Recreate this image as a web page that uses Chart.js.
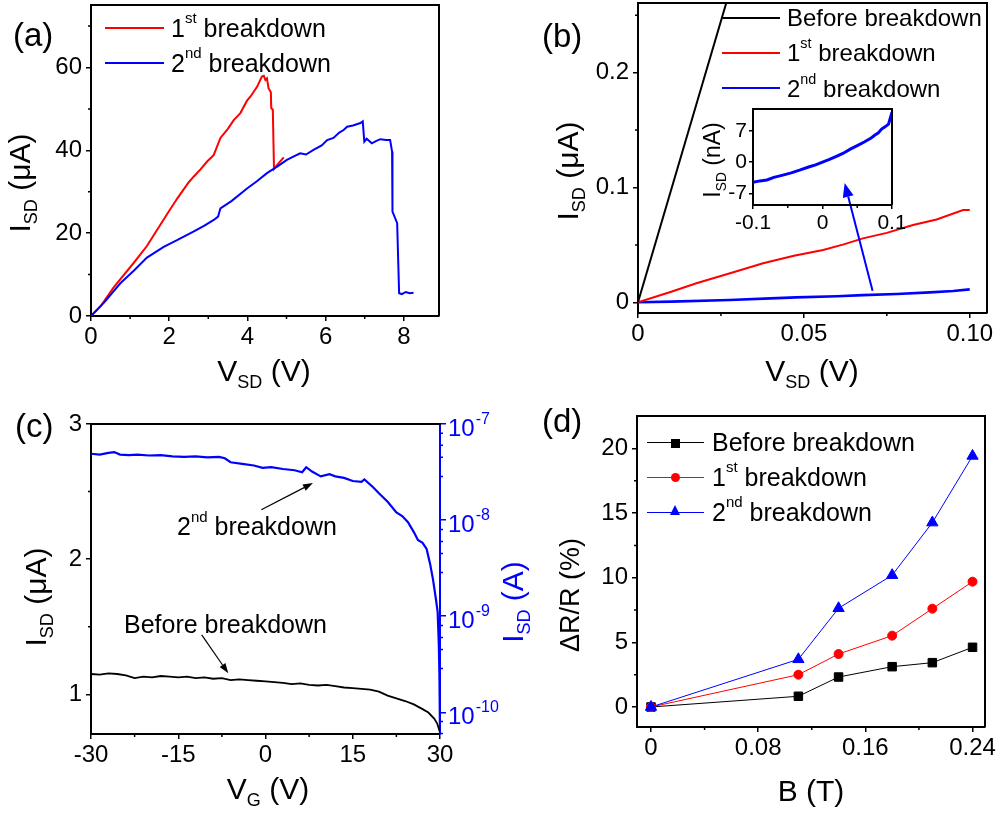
<!DOCTYPE html>
<html lang="en">
<head>
  <meta charset="UTF-8" />
  <title>Breakdown transport</title>
  <script src="https://cdn.jsdelivr.net/npm/chart.js"></script>
  <style>
    body { margin: 0; background: #fff; }
    #fig { position: relative; width: 1000px; height: 813px; overflow: hidden;
           font-family: "Liberation Sans", Arial, sans-serif; color: #000; }
    .box { position: absolute; }
    .t { position: absolute; white-space: nowrap; line-height: 1; }
    .c { transform: translateX(-50%); }
    .r { transform: translate(-50%, -50%) rotate(-90deg); }
    .sp { font-size: 60%; position: relative; top: -0.9em; }
    .sb { font-size: 60%; position: relative; top: 0.4em; }
    .ln { position: absolute; height: 2px; }
    .mk { position: absolute; }
  </style>
</head>
<body>
<div id="fig">
  <div class="box" style="left:0;top:0;width:460px;height:400px"><canvas id="chartA"></canvas></div>
  <div class="box" style="left:540px;top:0;width:460px;height:400px"><canvas id="chartB"></canvas></div>
  <div class="box" style="left:690px;top:100px;width:215px;height:140px"><canvas id="chartInset"></canvas></div>
  <div class="box" style="left:0;top:400px;width:510px;height:413px"><canvas id="chartC"></canvas></div>
  <div class="box" style="left:540px;top:400px;width:460px;height:413px"><canvas id="chartD"></canvas></div>

  <!-- panel letters -->
  <div class="t" style="left:13px;top:18px;font-size:33px">(a)</div>
  <div class="t" style="left:542px;top:19px;font-size:33px">(b)</div>
  <div class="t" style="left:15px;top:409px;font-size:33px">(c)</div>
  <div class="t" style="left:542px;top:404px;font-size:33px">(d)</div>

  <!-- (a) titles + legend -->
  <div class="t c" style="left:264px;top:356px;font-size:30px">V<span class="sb">SD</span> (V)</div>
  <div class="t r" style="left:20px;top:183px;font-size:30px">I<span class="sb">SD</span> (μA)</div>
  <div class="ln" style="left:105px;top:27px;width:59px;background:#f00"></div>
  <div class="ln" style="left:105px;top:62px;width:59px;background:#00f"></div>
  <div class="t" style="left:171px;top:15.5px;font-size:25px">1<span class="sp">st</span> breakdown</div>
  <div class="t" style="left:171px;top:50.5px;font-size:25px">2<span class="sp">nd</span> breakdown</div>

  <!-- (b) titles + legend -->
  <div class="t c" style="left:812px;top:356px;font-size:30px">V<span class="sb">SD</span> (V)</div>
  <div class="t r" style="left:568px;top:171px;font-size:30px">I<span class="sb">SD</span> (μA)</div>
  <div class="t r" style="left:712px;top:160px;font-size:23px">I<span class="sb">SD</span> (nA)</div>
  <div class="ln" style="left:722px;top:17px;width:58px;background:#000"></div>
  <div class="ln" style="left:722px;top:52px;width:58px;background:#f00"></div>
  <div class="ln" style="left:722px;top:87px;width:58px;background:#00f"></div>
  <div class="t" style="left:787px;top:5.5px;font-size:24px">Before breakdown</div>
  <div class="t" style="left:787px;top:41px;font-size:24px">1<span class="sp">st</span> breakdown</div>
  <div class="t" style="left:787px;top:76.5px;font-size:24px">2<span class="sp">nd</span> breakdown</div>

  <!-- (c) titles + notes -->
  <div class="t c" style="left:268px;top:774px;font-size:30px">V<span class="sb">G</span> (V)</div>
  <div class="t r" style="left:36px;top:597px;font-size:30px">I<span class="sb">SD</span> (μA)</div>
  <div class="t r" style="left:513px;top:602px;font-size:30px;color:#00f">I<span class="sb">SD</span> (A)</div>
  <div class="t" style="left:177px;top:514px;font-size:25px">2<span class="sp">nd</span> breakdown</div>
  <div class="t" style="left:124px;top:611.5px;font-size:25px">Before breakdown</div>

  <!-- (d) titles + legend -->
  <div class="t c" style="left:811px;top:776px;font-size:30px">B (T)</div>
  <div class="t r" style="left:570px;top:595px;font-size:27px">ΔR/R (%)</div>
  <div class="ln" style="left:647px;top:442px;width:57px;height:1px;background:#000"></div>
  <div class="ln" style="left:647px;top:477px;width:57px;height:1px;background:#f00"></div>
  <div class="ln" style="left:647px;top:512px;width:57px;height:1px;background:#00f"></div>
  <div class="mk" style="left:671px;top:438.5px;width:9px;height:9px;background:#000"></div>
  <div class="mk" style="left:670.5px;top:472.8px;width:9px;height:9px;border-radius:50%;background:#f00"></div>
  <div class="mk" style="left:669.5px;top:505px;width:0;height:0;border-left:5.5px solid transparent;border-right:5.5px solid transparent;border-bottom:10px solid #00f"></div>
  <div class="t" style="left:712px;top:429.5px;font-size:25px">Before breakdown</div>
  <div class="t" style="left:712px;top:464.5px;font-size:25px">1<span class="sp">st</span> breakdown</div>
  <div class="t" style="left:712px;top:499.5px;font-size:25px">2<span class="sp">nd</span> breakdown</div>
</div>

<script>
  // ---- (a) I-V up to breakdown ----
  const aRedV = [0, 0.24, 0.58, 1.09, 1.43, 1.94, 2.2, 2.5, 2.63, 2.8, 2.97, 3.14, 3.31, 3.5, 3.65, 3.82, 3.99, 4.08, 4.25, 4.37, 4.42, 4.46, 4.5, 4.54, 4.6, 4.61, 4.65, 4.68, 4.8, 4.93];
  const aRedI = [0, 2.3, 6.9, 12.8, 16.9, 24.5, 28.3, 32.3, 33.7, 35.4, 37.3, 38.9, 43.0, 45.2, 47.3, 49.0, 52.0, 53.0, 55.4, 57.8, 58.0, 57.0, 57.4, 55.0, 54.0, 50.2, 49.8, 35.5, 36.9, 38.3];
  const aBlueV = [0, 0.35, 0.75, 1.1, 1.43, 1.86, 2.2, 2.62, 2.9, 3.14, 3.25, 3.31, 3.6, 3.99, 4.25, 4.5, 4.75, 5.01, 5.2, 5.35, 5.5, 5.69, 5.9, 6.04, 6.2, 6.35, 6.46, 6.55, 6.7, 6.89, 6.95, 6.99, 7.05, 7.18, 7.3, 7.4, 7.55, 7.65, 7.7, 7.71, 7.83, 7.88, 7.95, 8.05, 8.15, 8.25];
  const aBlueI = [0, 3.4, 7.9, 11.0, 14.1, 16.7, 18.3, 20.4, 21.8, 23.2, 24.0, 26.0, 27.8, 30.8, 32.6, 34.5, 36.0, 37.7, 38.6, 39.3, 39.0, 40.1, 41.2, 42.5, 43.0, 44.3, 44.9, 45.7, 46.0, 46.6, 47.0, 42.1, 42.8, 41.7, 42.3, 42.7, 42.5, 42.5, 39.7, 25.2, 22.4, 5.5, 5.3, 5.8, 5.5, 5.6];
  const aTickX = [0, 2, 4, 6, 8];
  const aTickXLab = ['0', '2', '4', '6', '8'];
  const aTickY = [0, 20, 40, 60];
  const aTickYLab = ['0', '20', '40', '60'];

  // ---- (b) low-bias I-V ----
  const bBeforeV = [0, 0.03];
  const bBeforeI = [0, 0.294];
  const bFirstV = [0, 0.01, 0.0176, 0.028, 0.0377, 0.047, 0.0558, 0.062, 0.0678, 0.075, 0.0829, 0.09, 0.098, 0.1];
  const bFirstI = [0, 0.0092, 0.0166, 0.0255, 0.034, 0.0405, 0.0456, 0.0505, 0.0557, 0.0605, 0.0673, 0.0722, 0.0804, 0.0804];
  const bSecondV = [0, 0.01, 0.0276, 0.04, 0.0477, 0.06, 0.0678, 0.078, 0.088, 0.095, 0.1];
  const bSecondI = [0, 0.0006, 0.002, 0.0034, 0.0043, 0.0053, 0.0063, 0.0073, 0.0087, 0.0098, 0.0113];
  const bTickX = [0, 0.05, 0.1];
  const bTickXLab = ['0', '0.05', '0.10'];
  const bTickY = [0, 0.1, 0.2];
  const bTickYLab = ['0', '0.1', '0.2'];

  // inset: 2nd breakdown in nA
  const insV = [-0.1, -0.09, -0.08, -0.07, -0.057, -0.045, -0.033, -0.02, -0.01, 0, 0.01, 0.02, 0.03, 0.04, 0.05, 0.06, 0.07, 0.075, 0.08, 0.085, 0.09, 0.095, 0.1];
  const insI = [-4.5, -4.2, -4.0, -3.4, -2.9, -2.4, -1.8, -1.1, -0.6, 0, 0.6, 1.3, 2.0, 2.9, 3.7, 4.5, 5.4, 6.0, 6.5, 7.4, 7.9, 8.5, 11.2];
  const insTickX = [-0.1, 0, 0.1];
  const insTickXLab = ['-0.1', '0', '0.1'];
  const insTickY = [-7, 0, 7];
  const insTickYLab = ['-7', '0', '7'];

  // ---- (c) gate sweep ----
  const cBeforeVG = [-30, -28.5, -27, -25.5, -24, -22.5, -21, -19.5, -18, -16.5, -15, -13.5, -12, -10.5, -9, -7.5, -6, -4.5, -3, -1.5, 0, 1.5, 3, 4.5, 6, 7.5, 9, 10.5, 12, 13.5, 15, 16.5, 18, 19.5, 21, 22.5, 24, 25.5, 27, 28, 29, 29.5, 30];
  const cBeforeI = [1.15, 1.145, 1.155, 1.15, 1.14, 1.12, 1.13, 1.125, 1.135, 1.13, 1.125, 1.13, 1.12, 1.125, 1.115, 1.12, 1.105, 1.11, 1.105, 1.1, 1.095, 1.09, 1.085, 1.075, 1.08, 1.07, 1.065, 1.07, 1.06, 1.05, 1.045, 1.04, 1.035, 1.02, 0.99, 0.97, 0.95, 0.925, 0.89, 0.865, 0.82, 0.785, 0.72];
  const cSecondVG = [-30, -28.5, -27, -26, -25, -23.5, -22, -20, -18, -16, -14, -12, -10, -8, -7, -6, -4, -2, -0.5, 1, 3, 5, 6.3, 7, 8, 9.5, 11, 12, 13.5, 15, 16.5, 17, 18.5, 19.5, 21, 22.5, 23.5, 24.5, 25.5, 26.2, 27, 27.7, 28.3, 28.8, 29.3, 29.6, 29.8, 29.9, 30];
  const cSecondI = [4.9e-8, 4.8e-8, 5.0e-8, 5.1e-8, 4.8e-8, 4.75e-8, 4.8e-8, 4.7e-8, 4.75e-8, 4.6e-8, 4.55e-8, 4.6e-8, 4.5e-8, 4.55e-8, 4.4e-8, 4.0e-8, 3.85e-8, 3.7e-8, 3.5e-8, 3.55e-8, 3.4e-8, 3.3e-8, 3.15e-8, 3.55e-8, 3.2e-8, 2.85e-8, 3.0e-8, 2.85e-8, 2.75e-8, 2.55e-8, 2.5e-8, 2.65e-8, 2.2e-8, 1.9e-8, 1.55e-8, 1.2e-8, 1.1e-8, 9.5e-9, 7.5e-9, 6.2e-9, 5.8e-9, 5.0e-9, 3.5e-9, 2.4e-9, 1.5e-9, 1.1e-9, 5e-10, 2.5e-10, 6e-11];
  const cTickX = [-30, -15, 0, 15, 30];
  const cTickXLab = ['-30', '-15', '0', '15', '30'];
  const cTickY = [1, 2, 3];
  const cTickYLab = ['1', '2', '3'];
  const cTickR = [1e-10, 1e-9, 1e-8, 1e-7];
  const cTickRExp = ['-10', '-9', '-8', '-7'];

  // ---- (d) magnetoresistance ----
  const dB = [0, 0.11, 0.14, 0.18, 0.21, 0.24];
  const dBefore = [0, 0.83, 2.32, 3.12, 3.43, 4.62];
  const dFirst = [0, 2.50, 4.10, 5.52, 7.61, 9.70];
  const dSecond = [0, 3.69, 7.64, 10.2, 14.27, 19.43];
  const dTickX = [0, 0.08, 0.16, 0.24];
  const dTickXLab = ['0', '0.08', '0.16', '0.24'];
  const dTickY = [0, 5, 10, 15, 20];
  const dTickYLab = ['0', '5', '10', '15', '20'];

  const FONT = "'Liberation Sans', Arial, sans-serif";
  const BLUE = '#0000ff', RED = '#ff0000';

  function pts(xs, ys) { return xs.map((x, i) => ({ x, y: ys[i] })); }

  function axis(o) {
    const col = o.color || '#000';
    return {
      type: o.type || 'linear', position: o.pos, min: o.min, max: o.max,
      afterBuildTicks: s => { s.ticks = o.ticks.map(v => ({ value: v })); },
      afterFit: s => {
        if (o.vert) { s.width = o.size; s.paddingTop = 0; s.paddingBottom = 0; }
        else { s.height = o.size; s.paddingLeft = 0; s.paddingRight = 0; }
      },
      ticks: {
        display: !!o.labels, autoSkip: false, maxRotation: 0, minRotation: 0,
        callback: (v, i) => o.labels ? o.labels[i] : '',
        font: { family: FONT, size: o.font || 24 }, color: col, padding: o.pad
      },
      grid: { drawOnChartArea: false, drawTicks: true, tickLength: o.tl || 5, color: col, lineWidth: 1.5 },
      border: { display: true, color: col, width: 2 }
    };
  }

  function line(xs, ys, color, w, extra) {
    return Object.assign({ data: pts(xs, ys), borderColor: color, backgroundColor: color,
      borderWidth: w, pointRadius: 0, pointHoverRadius: 0, tension: 0, fill: false }, extra || {});
  }

  function arrow(ctx, x0, y0, x1, y1, color, w, hl, hw) {
    const ang = Math.atan2(y1 - y0, x1 - x0);
    const bx = x1 - hl * Math.cos(ang), by = y1 - hl * Math.sin(ang);
    ctx.strokeStyle = color; ctx.fillStyle = color; ctx.lineWidth = w;
    ctx.beginPath(); ctx.moveTo(x0, y0); ctx.lineTo(bx, by); ctx.stroke();
    ctx.beginPath(); ctx.moveTo(x1, y1);
    ctx.lineTo(bx + hw * Math.sin(ang), by - hw * Math.cos(ang));
    ctx.lineTo(bx - hw * Math.sin(ang), by + hw * Math.cos(ang));
    ctx.closePath(); ctx.fill();
  }

  // frame, minor ticks, arrows, power-of-ten labels
  const decor = {
    id: 'decor',
    afterDraw(chart, args, o) {
      const { ctx, chartArea: a, scales } = chart;
      ctx.save();
      ctx.strokeStyle = '#000'; ctx.lineWidth = 2;
      ctx.beginPath();
      ctx.moveTo(a.left - 1, a.top); ctx.lineTo(a.right + 1, a.top);
      if (o.frameRight !== false) { ctx.moveTo(a.right, a.top); ctx.lineTo(a.right, a.bottom); }
      ctx.stroke();

      const len = o.minorLen || 3;
      ctx.lineWidth = 1.5;
      ctx.beginPath();
      (o.minorX || []).forEach(v => { const p = scales.x.getPixelForValue(v); ctx.moveTo(p, a.bottom); ctx.lineTo(p, a.bottom + len); });
      (o.minorY || []).forEach(v => { const p = scales.y.getPixelForValue(v); ctx.moveTo(a.left - len, p); ctx.lineTo(a.left, p); });
      ctx.stroke();
      if (o.minorY2) {
        ctx.strokeStyle = BLUE; ctx.beginPath();
        o.minorY2.forEach(v => { const p = scales.y2.getPixelForValue(v); ctx.moveTo(a.right, p); ctx.lineTo(a.right + len, p); });
        ctx.stroke();
      }

      if (o.powers) {
        const s = scales[o.powers.axis];
        ctx.fillStyle = o.powers.color; ctx.textAlign = 'left'; ctx.textBaseline = 'alphabetic';
        o.powers.values.forEach((v, i) => {
          const p = s.getPixelForValue(v), x = a.right + 8;
          ctx.font = '24px ' + FONT;
          ctx.fillText('10', x, p + 12);
          const w = ctx.measureText('10').width;
          ctx.font = '16px ' + FONT;
          ctx.fillText(o.powers.exps[i], x + w + 1, p - 0.5);
        });
      }

      (o.arrows || []).forEach(r => {
        const ys = scales[r.yAxis || 'y'];
        arrow(ctx, scales.x.getPixelForValue(r.x0), ys.getPixelForValue(r.y0),
          scales.x.getPixelForValue(r.x1), ys.getPixelForValue(r.y1), r.color, r.w, r.hl, r.hw);
      });
      ctx.restore();
    }
  };

  function plot(id, datasets, scales, pad, deco) {
    return new Chart(document.getElementById(id), {
      type: 'line',
      data: { datasets },
      options: {
        responsive: true, maintainAspectRatio: false, animation: false, events: [],
        layout: { padding: pad, autoPadding: false },
        scales,
        plugins: { legend: { display: false }, tooltip: { enabled: false }, decor: deco }
      },
      plugins: [decor]
    });
  }

  // (a)
  plot('chartA', [
    line(aBlueV, aBlueI, BLUE, 2),
    line(aRedV, aRedI, RED, 2)
  ], {
    x: axis({ min: 0, max: 8.9, ticks: aTickX, labels: aTickXLab, size: 40, pad: 2 }),
    y: axis({ min: 0, max: 75.1, ticks: aTickY, labels: aTickYLab, size: 91, vert: true, pad: 4 })
  }, { top: 5, right: 21, bottom: 44, left: 0 },
  { minorX: [1, 3, 5, 7], minorY: [10, 30, 50, 70] });

  // (b)
  plot('chartB', [
    line(bBeforeV, bBeforeI, '#000', 2),
    line(bFirstV, bFirstI, RED, 2),
    line(bSecondV, bSecondI, BLUE, 2.6)
  ], {
    x: axis({ min: 0, max: 0.1052, ticks: bTickX, labels: bTickXLab, size: 40, pad: 2 }),
    y: axis({ min: -0.0093, max: 0.2607, ticks: bTickY, labels: bTickYLab, size: 98, vert: true, pad: 4 })
  }, { top: 3, right: 13, bottom: 47, left: 0 },
  { minorX: [0.025, 0.075], minorY: [0.05, 0.15, 0.25],
    arrows: [{ x0: 0.0707, y0: 0.0101, x1: 0.0623, y1: 0.1039, color: BLUE, w: 2, hl: 14, hw: 5.5 }] });

  // (b) inset
  plot('chartInset', [
    line(insV, insI, BLUE, 3)
  ], {
    x: axis({ min: -0.1, max: 0.1, ticks: insTickX, labels: insTickXLab, size: 30, pad: 2, font: 21, tl: 4 }),
    y: axis({ min: -9.6, max: 11.9, ticks: insTickY, labels: insTickYLab, size: 63, vert: true, pad: 2, font: 21, tl: 4 })
  }, { top: 9, right: 13, bottom: 5, left: 0 },
  { minorX: [-0.05, 0.05], minorLen: 3 });

  // (c)
  const logMinor = [];
  [1e-11, 1e-10, 1e-9, 1e-8].forEach(d => [2.85, 4.5, 6, 8].forEach(k => {
    const v = k * d; if (v > 5.94e-11 && v < 1e-7) logMinor.push(v);
  }));
  plot('chartC', [
    line(cBeforeVG, cBeforeI, '#000', 1.8, { yAxisID: 'y' }),
    line(cSecondVG, cSecondI, BLUE, 2.2, { yAxisID: 'y2' })
  ], {
    x: axis({ min: -30, max: 30, ticks: cTickX, labels: cTickXLab, size: 40, pad: 2 }),
    y: axis({ min: 0.706, max: 3, ticks: cTickY, labels: cTickYLab, size: 91, vert: true, pad: 4, pos: 'left' }),
    y2: axis({ type: 'logarithmic', min: 5.94e-11, max: 1e-7, ticks: cTickR, size: 70, vert: true, pos: 'right', color: BLUE, tl: 6 })
  }, { top: 24, right: 0, bottom: 39, left: 0 },
  { frameRight: false, minorX: [-22.5, -7.5, 7.5, 22.5], minorY: [1.5, 2.5], minorY2: logMinor,
    powers: { axis: 'y2', values: cTickR, exps: cTickRExp, color: BLUE },
    arrows: [
      { x0: -0.72, y0: 2.365, x1: 8.16, y1: 2.563, color: '#000', w: 1.2, hl: 10, hw: 3.5 },
      { x0: -10.97, y0: 1.439, x1: -6.4, y1: 1.156, color: '#000', w: 1.2, hl: 10, hw: 3.5 }
    ] });

  // (d)
  plot('chartD', [
    line(dB, dBefore, '#000', 1, { pointStyle: 'rect', pointRadius: 6, borderWidth: 1, order: 3 }),
    line(dB, dFirst, RED, 1, { pointStyle: 'circle', pointRadius: 4.5, order: 2 }),
    line(dB, dSecond, BLUE, 1, { pointStyle: 'triangle', pointRadius: 6.5, order: 1 })
  ], {
    x: axis({ min: -0.01045, max: 0.2493, ticks: dTickX, labels: dTickXLab, size: 40, pad: 2 }),
    y: axis({ min: -1.548, max: 22.52, ticks: dTickY, labels: dTickYLab, size: 97, vert: true, pad: 4 })
  }, { top: 16, right: 15, bottom: 46, left: 0 },
  { minorX: [0.04, 0.12, 0.2], minorY: [2.5, 7.5, 12.5, 17.5] });
</script>
</body>
</html>
